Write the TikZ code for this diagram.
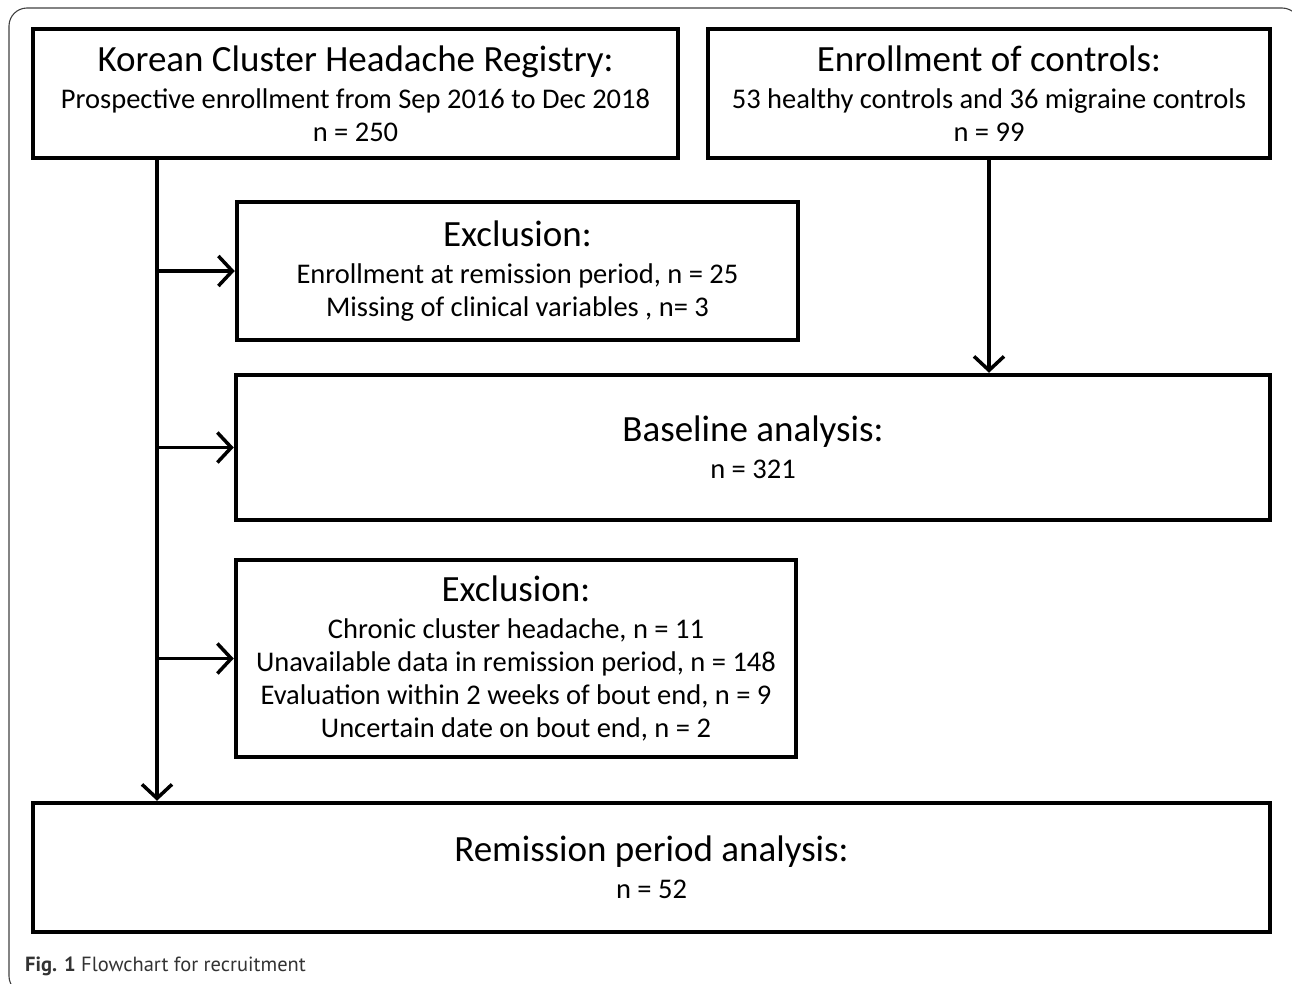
\documentclass[tikz,border=0pt]{standalone}
\usepackage{fontspec}
\setmainfont{Carlito}
\newfontfamily\capfont{PT Sans}
\usetikzlibrary{arrows.meta}

\newcommand{\boxhead}[1]{{\fontsize{37}{40}\selectfont #1}\\[4pt]}

\tikzset{
    stagebox/.style={draw,
        rectangle,
        line width=4.5pt,
        inner sep=0pt,
        align=center,
        font=\fontsize{28.5}{33}\selectfont},
    flowarrow/.style={line width=3.5pt,
        -{Straight Barb[length=14pt,width=30pt,line width=3.5pt]}}
}

\begin{document}
\begin{tikzpicture}[x=1pt,y=-1pt]

        \useasboundingbox (0,0) rectangle (1292,983);

        % Outer frame
        \draw [line width=1.1pt, black!75, rounded corners=18pt]
            (9,8) rectangle (1300,994);

        % Registry
        \node [stagebox,
            minimum width=645pt,
            minimum height=129pt] (registry) at (355.5,93.5)
            {\boxhead{Korean Cluster Headache Registry:}
             Prospective enrollment from Sep 2016 to Dec 2018\\
             n = 250};

        % Controls
        \node [stagebox,
            minimum width=562pt,
            minimum height=129pt] (controls) at (989,93.5)
            {\boxhead{Enrollment of controls:}
             53 healthy controls and 36 migraine controls\\
             n = 99};

        % First exclusion
        \node [stagebox,
            minimum width=561pt,
            minimum height=138pt] (exclA) at (517.5,271)
            {\boxhead{Exclusion:}
             Enrollment at remission period, n = 25\\
             Missing of clinical variables , n= 3};

        % Baseline
        \node [stagebox,
            minimum width=1034pt,
            minimum height=145pt] (baseline) at (753,447.5)
            {\boxhead{Baseline analysis:}
             n = 321};

        % Second exclusion
        \node [stagebox,
            minimum width=560pt,
            minimum height=197pt] (exclB) at (516,658.5)
            {\boxhead{Exclusion:}
             Chronic cluster headache, n = 11\\
             Unavailable data in remission period, n = 148\\
             Evaluation within 2 weeks of bout end, n = 9\\
             Uncertain date on bout end, n = 2};

        % Remission
        \node [stagebox,
            minimum width=1237pt,
            minimum height=129pt] (remission) at (651.5,867.5)
            {\boxhead{Remission period analysis:}
             n = 52};

        % Connectors
        \coordinate (trunk) at (157,0);
        \draw [flowarrow] (registry.south -| trunk) -- (remission.north -| trunk);
        \draw [flowarrow] (trunk |- exclA.west) -- (exclA.west);
        \draw [flowarrow] (trunk |- baseline.west) -- (baseline.west);
        \draw [flowarrow] (trunk |- exclB.west) -- (exclB.west);
        \draw [flowarrow] (controls.south) -- (baseline.north -| controls.south);

        % Caption
        \node [anchor=base west, inner sep=0pt, text=black!80,
            font=\capfont\fontsize{20.5}{24}\selectfont] (caption) at (25,971)
            {\textbf{Fig. 1} Flowchart for recruitment};

\end{tikzpicture}
\end{document}
